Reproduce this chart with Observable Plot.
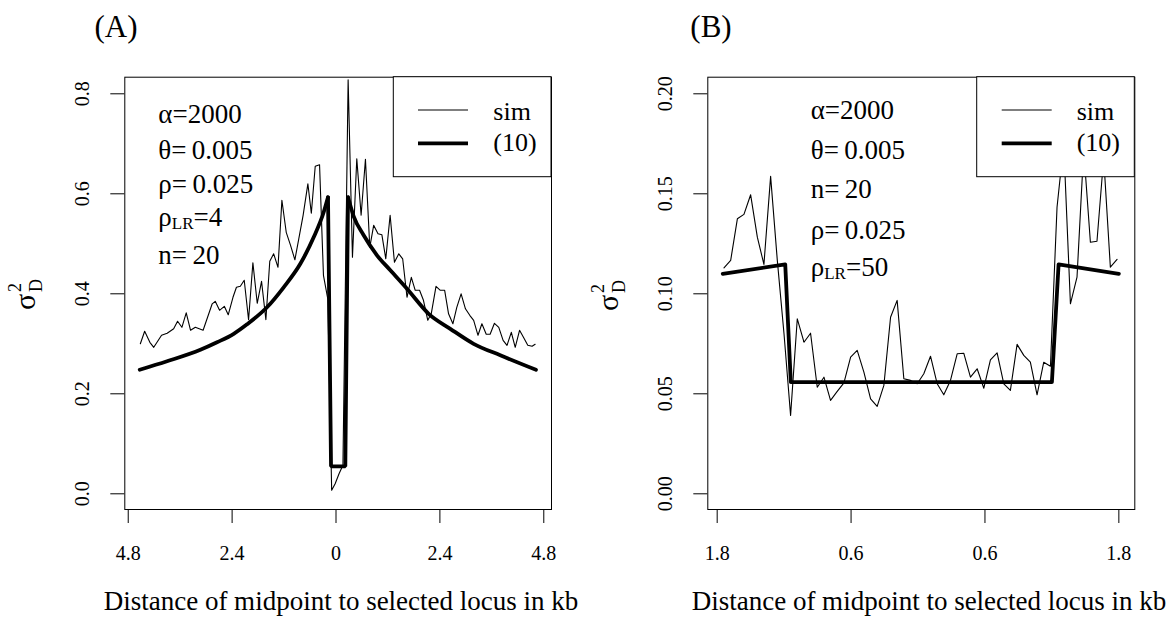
<!DOCTYPE html>
<html>
<head>
<meta charset="utf-8">
<script src="https://cdn.jsdelivr.net/npm/d3@7"></script>
<script src="https://cdn.jsdelivr.net/npm/@observablehq/plot@0.6"></script>
<style>
  body { margin: 0; background: white; }
  #wrap { position: relative; width: 1174px; height: 624px; background: white; }
  .panel { position: absolute; top: 0; }
</style>
</head>
<body>
<div id="wrap"></div>
<script>
// ---------------- Panel A data ----------------
const simA_x = [-4.52,-4.42,-4.30,-4.21,-4.03,-3.90,-3.75,-3.66,-3.56,-3.46,-3.36,-3.25,-3.07,-2.86,-2.79,-2.69,-2.58,-2.49,-2.38,-2.30,-2.21,-2.12,-2.02,-1.92,-1.82,-1.72,-1.62,-1.53,-1.44,-1.34,-1.25,-1.15,-1.05,-0.95,-0.86,-0.76,-0.65,-0.57,-0.48,-0.38,-0.29,-0.19,-0.10,-0.02,0.07,0.16,0.28,0.38,0.48,0.58,0.68,0.78,0.87,0.97,1.06,1.15,1.25,1.35,1.45,1.54,1.64,1.74,1.83,1.93,2.02,2.12,2.20,2.31,2.41,2.51,2.60,2.70,2.79,2.89,2.99,3.09,3.18,3.28,3.37,3.47,3.56,3.66,3.76,3.86,3.95,4.05,4.14,4.24,4.33,4.43,4.53,4.60];
const simA_y = [0.300,0.325,0.303,0.293,0.317,0.321,0.330,0.345,0.333,0.362,0.327,0.333,0.327,0.380,0.385,0.367,0.375,0.358,0.393,0.413,0.415,0.427,0.348,0.462,0.381,0.425,0.348,0.465,0.480,0.453,0.587,0.523,0.497,0.468,0.510,0.557,0.620,0.561,0.655,0.658,0.437,0.390,0.007,0.020,0.040,0.057,0.828,0.473,0.670,0.557,0.669,0.493,0.537,0.520,0.518,0.470,0.557,0.463,0.480,0.470,0.393,0.433,0.407,0.407,0.387,0.347,0.360,0.415,0.407,0.407,0.360,0.340,0.373,0.400,0.370,0.357,0.347,0.317,0.340,0.319,0.319,0.341,0.333,0.307,0.297,0.323,0.293,0.327,0.313,0.297,0.295,0.299];
const thA_leftX  = [-4.534,-3.903,-3.133,-2.748,-2.363,-2.055,-1.594,-1.209,-0.824,-0.516,-0.285,-0.185];
const thA_leftY  = [0.248,0.265,0.288,0.303,0.320,0.339,0.373,0.413,0.460,0.513,0.563,0.593];
const thA_dipX   = [-0.185,-0.115,0.215,0.277];
const thA_dipY   = [0.593,0.055,0.055,0.593];
const thA_rightX = [0.277,0.408,0.639,0.947,1.255,1.640,2.140,2.640,3.179,3.795,4.619];
const thA_rightY = [0.593,0.555,0.517,0.477,0.447,0.410,0.360,0.330,0.300,0.277,0.248];
const xTicksA = [-4.8,-2.4,0,2.4,4.8];
const yTicksA = [0,0.2,0.4,0.6,0.8];
const annotA = [["α","=2000"],["θ","=\u20090.005"],["ρ","=\u20090.025"],["ρLR","=4"],["n","=\u200920"]];

// ---------------- Panel B data ----------------
const simB_x = [-1.739,-1.679,-1.619,-1.560,-1.500,-1.440,-1.381,-1.321,-1.261,-1.201,-1.142,-1.082,-1.022,-0.963,-0.903,-0.843,-0.784,-0.724,-0.664,-0.604,-0.545,-0.485,-0.425,-0.366,-0.306,-0.246,-0.187,-0.127,-0.067,-0.007,0.052,0.112,0.172,0.231,0.291,0.351,0.410,0.470,0.530,0.590,0.649,0.709,0.769,0.828,0.888,0.948,1.007,1.067,1.127,1.187,1.246,1.306,1.366,1.425,1.485,1.545,1.604,1.664,1.724,1.784];
const simB_y = [0.113,0.1167,0.1375,0.1397,0.1495,0.1283,0.1147,0.1587,0.1167,0.080,0.0392,0.0875,0.0758,0.0803,0.0533,0.0583,0.0467,0.0512,0.0555,0.0683,0.0717,0.0608,0.0475,0.0437,0.0542,0.0883,0.0967,0.0575,0.0567,0.055,0.060,0.0688,0.055,0.0495,0.0567,0.070,0.0703,0.0583,0.0625,0.0528,0.067,0.0705,0.055,0.0517,0.0747,0.0692,0.0658,0.0495,0.0658,0.0638,0.1433,0.175,0.095,0.1083,0.172,0.1258,0.1263,0.168,0.1133,0.1172];
const thB_x = [-1.75,-1.19,-1.14,1.20,1.26,1.80];
const thB_y = [0.110,0.1147,0.0558,0.0558,0.1147,0.110];
const xTicksB = [-1.8,-0.6,0.6,1.8];
const yTicksB = [0,0.05,0.10,0.15,0.20];
const annotB = [["α","=2000"],["θ","=\u20090.005"],["n","=\u200920"],["ρ","=\u20090.025"],["ρLR","=50"]];

const legendLabels = ["sim","(10)"];
const xTitle = "Distance of midpoint to selected locus in kb";

// ---------------- helpers ----------------
const FONT = "'Liberation Serif', 'Times New Roman', serif";
const zip = (xs, ys) => xs.map((x, i) => ({x, y: ys[i]}));

function addText(svg, x, y, str, size, anchor = "start") {
  return d3.select(svg).append("text")
    .attr("x", x).attr("y", y)
    .attr("font-family", FONT).attr("font-size", size)
    .attr("text-anchor", anchor).attr("fill", "black")
    .text(str);
}

function addAnnot(svg, x, baselines, items) {
  items.forEach(([sym, rest], i) => {
    const t = d3.select(svg).append("text")
      .attr("x", x).attr("y", baselines[i]).attr("text-anchor", "start")
      .attr("font-family", FONT).attr("font-size", 27).attr("fill", "black");
    if (sym === "ρLR") {
      t.append("tspan").text("ρ");
      t.append("tspan").attr("font-size", 17).attr("dy", 3).text("LR");
      t.append("tspan").attr("dy", -3).text(rest);
    } else {
      t.append("tspan").text(sym);
      t.append("tspan").text(rest);
    }
  });
}

function addLegend(svg, x0, x1, y0, y1, lx0, lx1, tx) {
  const s = d3.select(svg);
  s.append("rect").attr("x", x0).attr("y", y0).attr("width", x1 - x0).attr("height", y1 - y0)
    .attr("fill", "white").attr("stroke", "black").attr("stroke-width", 1);
  s.append("line").attr("x1", lx0).attr("x2", lx1).attr("y1", 110).attr("y2", 110)
    .attr("stroke", "black").attr("stroke-width", 1.1);
  s.append("line").attr("x1", lx0).attr("x2", lx1).attr("y1", 143.3).attr("y2", 143.3)
    .attr("stroke", "black").attr("stroke-width", 3.8);
  addText(svg, tx, 120, legendLabels[0], 26);
  addText(svg, tx, 151, legendLabels[1], 26);
}

function addYTitle(svg, bx, cy) {
  const g = d3.select(svg).append("g").attr("transform", `translate(${bx},${cy}) rotate(-90)`)
    .attr("text-anchor", "start").attr("font-family", FONT).attr("fill", "black");
  g.append("text").attr("x", -17).attr("y", 0).attr("font-size", 30).text("σ");
  g.append("text").attr("x", 1).attr("y", -14).attr("font-size", 18).text("2");
  g.append("text").attr("x", 1).attr("y", 7).attr("font-size", 18).text("D");
}

const absFmt = d => String(Math.abs(d));

function yLabels(ticks, fmt) {
  return Plot.text(ticks, {
    y: d => d, text: d => fmt(d), frameAnchor: "left", dx: -36,
    rotate: -90, textAnchor: "middle", lineAnchor: "bottom", fontSize: 20, fill: "black"
  });
}

// ---------------- Panel A ----------------
const plotA = Plot.plot({
  width: 587, height: 624,
  marginLeft: 124.3, marginRight: 36, marginTop: 76.7, marginBottom: 115,
  style: {fontFamily: FONT, fontSize: "20px", background: "white", color: "black", overflow: "visible"},
  x: {domain: [-4.879, 4.978]},
  y: {domain: [-0.0314, 0.8332]},
  marks: [
    Plot.line(zip(simA_x, simA_y), {x: "x", y: "y", stroke: "black", strokeWidth: 1.1}),
    Plot.line(zip(thA_leftX, thA_leftY), {x: "x", y: "y", stroke: "black", strokeWidth: 3.8, curve: "monotone-x"}),
    Plot.line(zip(thA_dipX, thA_dipY), {x: "x", y: "y", stroke: "black", strokeWidth: 3.8, strokeLinejoin: "miter"}),
    Plot.line(zip(thA_rightX, thA_rightY), {x: "x", y: "y", stroke: "black", strokeWidth: 3.8, curve: "monotone-x"}),
    Plot.frame({stroke: "black", strokeWidth: 1}),
    Plot.axisX(xTicksA, {tickSize: 14, tickPadding: 22, tickFormat: absFmt, fontSize: 20, label: null, stroke: "black"}),
    Plot.axisY(yTicksA, {tickSize: 14, tickFormat: () => "", label: null, stroke: "black"}),
    yLabels(yTicksA, d3.format(".1f"))
  ]
});
plotA.classList.add("panel");
plotA.style.left = "0px";
addLegend(plotA, 393.3, 551, 76.7, 176.7, 418, 468, 493.3);
addAnnot(plotA, 158.3, [123.3, 159, 193.3, 225.7, 264], annotA);
addText(plotA, 116, 37, "(A)", 31, "middle");
addText(plotA, 341, 610, xTitle, 27, "middle");
addYTitle(plotA, 35, 293);

// ---------------- Panel B ----------------
const offB = 587;
const plotB = Plot.plot({
  width: 587, height: 624,
  marginLeft: 707.3 - offB, marginRight: offB + 587 - 1134.3, marginTop: 76.7, marginBottom: 115,
  style: {fontFamily: FONT, fontSize: "20px", background: "white", color: "black", overflow: "visible"},
  x: {domain: [-1.884, 1.943]},
  y: {domain: [-0.00785, 0.2083]},
  marks: [
    Plot.line(zip(simB_x, simB_y), {x: "x", y: "y", stroke: "black", strokeWidth: 1.1}),
    Plot.line(zip(thB_x, thB_y), {x: "x", y: "y", stroke: "black", strokeWidth: 3.8}),
    Plot.frame({stroke: "black", strokeWidth: 1}),
    Plot.axisX(xTicksB, {tickSize: 14, tickPadding: 22, tickFormat: absFmt, fontSize: 20, label: null, stroke: "black"}),
    Plot.axisY(yTicksB, {tickSize: 14, tickFormat: () => "", label: null, stroke: "black"}),
    yLabels(yTicksB, d3.format(".2f"))
  ]
});
plotB.classList.add("panel");
plotB.style.left = offB + "px";
addLegend(plotB, 976.7 - offB, 1134.3 - offB, 76.7, 176.7, 1001.7 - offB, 1051.7 - offB, 1076.7 - offB);
addAnnot(plotB, 810.7 - offB, [119.3, 159, 198.3, 239.3, 276], annotB);
addText(plotB, 711 - offB, 37, "(B)", 31, "middle");
addText(plotB, 929 - offB, 610, xTitle, 27, "middle");
addYTitle(plotB, 618 - offB, 294);

const wrap = document.getElementById("wrap");
wrap.appendChild(plotA);
wrap.appendChild(plotB);
</script>
</body>
</html>
